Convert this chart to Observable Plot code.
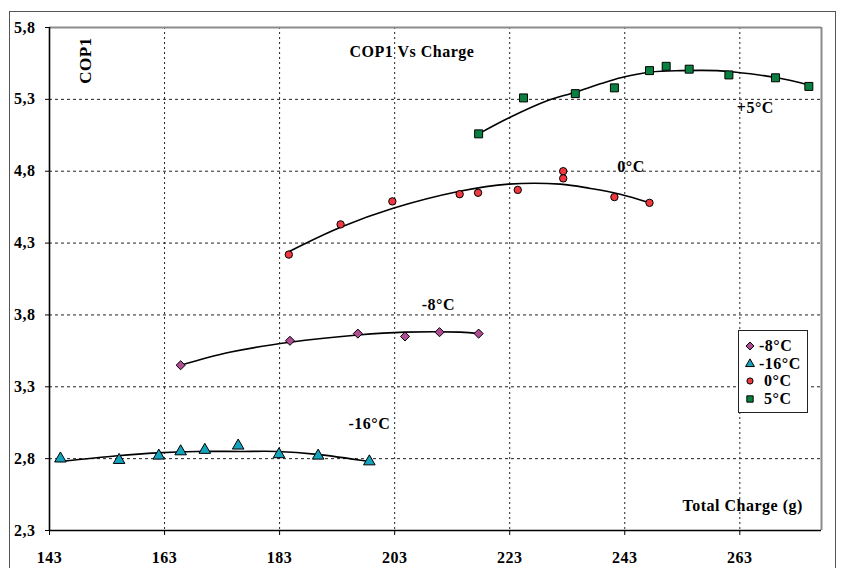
<!DOCTYPE html>
<html>
<head>
<meta charset="utf-8">
<script src="https://cdn.jsdelivr.net/npm/d3@7"></script>
<script src="https://cdn.jsdelivr.net/npm/@observablehq/plot@0.6"></script>
<style>
  html, body { margin: 0; padding: 0; background: #fff; overflow: hidden; }
  #wrap { position: relative; width: 843px; height: 568px; font-family: "Liberation Serif", "Times New Roman", serif; }
  #outer { position: absolute; left: 9px; top: 11px; width: 827px; height: 600px; border: 1px solid #555; box-sizing: border-box; pointer-events: none; }
  #chart { position: absolute; left: 0; top: 0; }
  #legend { position: absolute; left: 738px; top: 330px; width: 70px; height: 83px; box-sizing: border-box;
            border: 1px solid #222; background: #fff; padding-top: 6px; }
  .li { display: flex; align-items: center; height: 17.7px; font-weight: bold; font-size: 16px; letter-spacing: 0.5px; color: #000; }
  .li svg { margin-left: 5px; margin-right: 3px; }
</style>
</head>
<body>
<div id="wrap">
  <div id="chart"></div>
  <div id="outer"></div>
  <div id="legend"></div>
</div>
<script>
// ---- data ----
const xTicks = [143, 163, 183, 203, 223, 243, 263];
const yTicks = [2.3, 2.8, 3.3, 3.8, 4.3, 4.8, 5.3, 5.8];
const seriesNames = ["-8°C", "-16°C", "0°C", "5°C"];
const curveLabels = ["+5°C", "0°C", "-8°C", "-16°C"];
const chartTitle = "COP1 Vs Charge";
const yTitle = "COP1";
const xTitle = "Total Charge (g)";

// measured points
const m8x  = [165.8, 184.8, 196.6, 204.8, 210.8, 217.6];
const m8y  = [3.45, 3.62, 3.67, 3.65, 3.68, 3.67];
const m16x = [144.9, 155.1, 162.0, 165.8, 170.0, 175.8, 182.9, 189.7, 198.6];
const m16y = [2.80, 2.79, 2.82, 2.85, 2.86, 2.89, 2.83, 2.82, 2.78];
const z0x  = [184.6, 193.6, 202.6, 214.3, 217.5, 224.4, 232.3, 232.3, 241.2, 247.3];
const z0y  = [4.22, 4.43, 4.59, 4.64, 4.65, 4.67, 4.80, 4.75, 4.62, 4.58];
const p5x  = [217.6, 225.4, 234.4, 241.2, 247.3, 250.2, 254.2, 261.1, 269.2, 275.0];
const p5y  = [5.06, 5.31, 5.34, 5.38, 5.50, 5.53, 5.51, 5.47, 5.45, 5.39];

// trend lines
const m8tx  = [165.8, 174.3, 184.8, 196.6, 204.8, 214.4, 217.6];
const m8ty  = [3.45, 3.54, 3.61, 3.66, 3.68, 3.68, 3.67];
const m16tx = [144.9, 154.8, 161.7, 168.6, 176.2, 182.6, 189.5, 198.6];
const m16ty = [2.78, 2.82, 2.84, 2.85, 2.85, 2.85, 2.83, 2.78];
const z0tx  = [184.6, 193.6, 202.6, 214.3, 222.8, 231.8, 237.0, 242.2, 247.3];
const z0ty  = [4.24, 4.41, 4.54, 4.66, 4.71, 4.71, 4.68, 4.64, 4.58];
const p5tx  = [217.6, 222.8, 229.5, 234.4, 238.9, 242.3, 247.5, 252.7, 259.0, 262.0, 269.5, 275.0];
const p5ty  = [5.06, 5.17, 5.29, 5.35, 5.41, 5.45, 5.49, 5.50, 5.50, 5.49, 5.45, 5.40];

// ---- styles ----
const colors  = ["#B04C94", "#14A2BC", "#F03840", "#0A8040"];
const symbols = ["diamond2", "triangle", "circle", "square"];
const radii   = [4.1, 4.3, 3.7, 4.5];
const xMax = 277.2;

const zip = (xs, ys) => xs.map((x, i) => ({x, y: ys[i]}));
const series = [
  {pts: zip(m8x, m8y),   trend: zip(m8tx, m8ty)},
  {pts: zip(m16x, m16y), trend: zip(m16tx, m16ty)},
  {pts: zip(z0x, z0y),   trend: zip(z0tx, z0ty)},
  {pts: zip(p5x, p5y),   trend: zip(p5tx, p5ty)}
];

const fmtY = d => d.toFixed(1).replace(".", ",");
const font = {fontFamily: "Liberation Serif, serif", fontWeight: "bold"};

const marks = [
  Plot.ruleX(xTicks.slice(1), {stroke: "#222", strokeWidth: 1, strokeDasharray: "2,3"}),
  Plot.ruleY(yTicks.slice(1, -1), {stroke: "#222", strokeWidth: 1, strokeDasharray: "3,3"}),
  Plot.ruleY([5.8], {stroke: "#8c8c8c", strokeWidth: 2}),
  Plot.ruleX([xMax], {stroke: "#8c8c8c", strokeWidth: 2}),
  Plot.axisX({ticks: xTicks, tickSize: 5, tickPadding: 16, tickFormat: d => String(d), label: null,
              fontSize: 16, ...font}),
  Plot.axisY({ticks: yTicks, tickSize: 4, tickPadding: 10, tickFormat: fmtY, label: null, fontSize: 16, ...font}),
  Plot.ruleX([143], {stroke: "#000", strokeWidth: 1.6}),
  Plot.ruleY([2.3], {stroke: "#000", strokeWidth: 1.6})
];

series.forEach((s, i) => {
  marks.push(Plot.line(s.trend, {x: "x", y: "y", stroke: "#000", strokeWidth: 1.6, curve: "catmull-rom"}));
});
series.forEach((s, i) => {
  marks.push(Plot.dot(s.pts, {x: "x", y: "y", symbol: () => symbols[i], r: radii[i],
                              fill: colors[i], stroke: "#000", strokeWidth: 1}));
});

// text annotations
marks.push(Plot.text(curveLabels, {x: [265.7, 244.1, 210.6, 198.6], y: [5.24, 4.83, 3.87, 3.04],
                                   text: d => d, fontSize: 16, ...font, fill: "#000"}));
marks.push(Plot.text([chartTitle], {x: [206.0], y: [5.63], text: d => d, fontSize: 16, ...font, fill: "#000"}));
marks.push(Plot.text([yTitle], {x: [149.3], y: [5.57], text: d => d, rotate: -90, fontSize: 17, ...font, fill: "#000"}));
marks.push(Plot.text([xTitle], {x: [263.5], y: [2.47], text: d => d, fontSize: 16, ...font, fill: "#000"}));

const chart = Plot.plot({
  width: 843,
  height: 568,
  marginLeft: 49,
  marginRight: 22,
  marginTop: 27,
  marginBottom: 38,
  x: {type: "linear", domain: [143, xMax]},
  y: {type: "linear", domain: [2.3, 5.8]},
  symbol: {type: "identity"},
  style: {background: "transparent", color: "#000", fontFamily: "Liberation Serif, serif",
          fontWeight: "bold", letterSpacing: "0.5px", overflow: "visible"},
  marks
});
document.getElementById("chart").appendChild(chart);

// legend
const legend = document.getElementById("legend");
const legendSyms = [d3.symbolDiamond2, d3.symbolTriangle, d3.symbolCircle, d3.symbolSquare];
const legendSizes = [40, 34, 30, 40];
seriesNames.forEach((name, i) => {
  const row = document.createElement("div");
  row.className = "li";
  const svg = d3.create("svg").attr("width", 12).attr("height", 14);
  svg.append("path")
    .attr("transform", "translate(6,7)")
    .attr("d", d3.symbol(legendSyms[i], legendSizes[i])())
    .attr("fill", colors[i]).attr("stroke", "#000").attr("stroke-width", 1);
  row.appendChild(svg.node());
  const t = document.createElement("span");
  t.textContent = name;
  if (!name.startsWith("-")) t.style.paddingLeft = "5px";
  row.appendChild(t);
  legend.appendChild(row);
});
</script>
</body>
</html>
